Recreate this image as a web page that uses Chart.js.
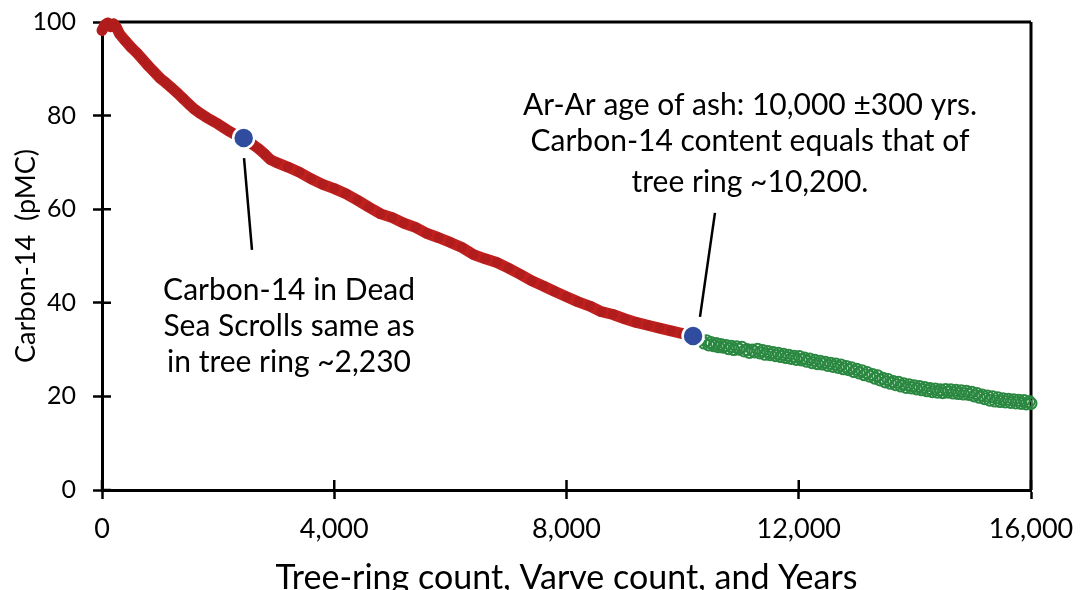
<!DOCTYPE html>
<html>
<head>
<meta charset="utf-8">
<script src="https://cdn.jsdelivr.net/npm/chart.js@4/dist/chart.umd.min.js"></script>
<style>
  html, body { margin: 0; padding: 0; background: #fff; }
  #c { display: block; }
</style>
</head>
<body>
<canvas id="c" width="1084" height="590"></canvas>
<script>
// ---------- DATA ----------
const redYears = [0, 50, 100, 150, 200, 250, 300, 400, 500, 600, 700, 800, 900, 1000, 1100, 1200, 1300, 1400, 1500, 1600, 1700, 1800, 1900, 2000, 2100, 2200, 2300, 2400, 2500, 2600, 2700, 2800, 2900, 3000, 3200, 3400, 3600, 3800, 4000, 4200, 4400, 4600, 4800, 5000, 5200, 5400, 5600, 5800, 6000, 6200, 6400, 6600, 6800, 7000, 7200, 7400, 7600, 7800, 8000, 8200, 8400, 8600, 8800, 9000, 9200, 9400, 9600, 9800, 10000];
const redC14 = [98.2, 99.4, 99.8, 99.0, 99.6, 98.8, 97.5, 96.0, 94.6, 93.4, 92.0, 90.6, 89.3, 88.0, 87.0, 85.9, 84.8, 83.6, 82.4, 81.3, 80.4, 79.6, 78.9, 78.2, 77.4, 76.6, 75.9, 75.3, 74.6, 73.8, 72.9, 71.8, 70.6, 70.0, 69.0, 67.9, 66.5, 65.3, 64.4, 63.3, 61.9, 60.4, 59.0, 58.2, 57.0, 56.1, 54.8, 53.9, 52.9, 51.8, 50.3, 49.4, 48.6, 47.4, 46.1, 44.7, 43.6, 42.4, 41.3, 40.2, 39.3, 38.1, 37.5, 36.6, 35.8, 35.2, 34.6, 34.0, 33.4];

const greenYears = [10320, 10370, 10410, 10450, 10490, 10540, 10580, 10620, 10660, 10700, 10750, 10790, 10840, 10880, 10930, 10970, 11020, 11060, 11110, 11150, 11200, 11240, 11290, 11330, 11380, 11420, 11470, 11510, 11560, 11600, 11650, 11690, 11740, 11780, 11830, 11870, 11920, 11960, 12010, 12050, 12100, 12140, 12190, 12230, 12280, 12320, 12370, 12410, 12460, 12500, 12550, 12590, 12640, 12680, 12730, 12770, 12820, 12860, 12910, 12950, 13000, 13040, 13090, 13130, 13180, 13220, 13270, 13310, 13360, 13400, 13450, 13490, 13540, 13580, 13630, 13670, 13720, 13760, 13810, 13850, 13900, 13940, 13990, 14030, 14080, 14120, 14170, 14210, 14260, 14300, 14350, 14390, 14440, 14480, 14530, 14570, 14620, 14660, 14710, 14750, 14800, 14840, 14890, 14930, 14980, 15020, 15070, 15110, 15160, 15200, 15250, 15290, 15340, 15380, 15430, 15470, 15520, 15560, 15610, 15650, 15700, 15740, 15790, 15830, 15880, 15920, 15970, 16000];
const greenC14 = [32.1, 31.4, 31.9, 31.0, 31.5, 30.8, 31.3, 30.6, 31.1, 30.5, 30.9, 30.2, 30.7, 30.0, 30.6, 30.1, 30.5, 29.7, 30.0, 29.4, 29.9, 29.5, 30.1, 29.3, 29.8, 29.0, 29.6, 28.9, 29.4, 28.7, 29.2, 28.5, 29.0, 28.3, 28.8, 28.1, 28.6, 27.9, 28.5, 27.8, 28.2, 27.5, 28.0, 27.2, 27.7, 27.0, 27.5, 26.9, 27.3, 26.6, 27.1, 26.4, 26.9, 26.2, 26.7, 25.9, 26.4, 25.7, 26.1, 25.3, 25.8, 25.0, 25.5, 24.6, 25.1, 24.3, 24.7, 23.9, 24.4, 23.5, 23.9, 23.1, 23.6, 22.8, 23.2, 22.5, 23.0, 22.2, 22.7, 21.9, 22.5, 21.8, 22.3, 21.6, 22.1, 21.4, 21.9, 21.2, 21.7, 21.0, 21.6, 20.9, 21.4, 20.8, 21.5, 20.9, 21.4, 20.7, 21.3, 20.6, 21.2, 20.5, 21.1, 20.4, 20.9, 20.1, 20.6, 19.8, 20.3, 19.5, 20.1, 19.2, 19.9, 19.0, 19.7, 18.9, 19.5, 18.8, 19.4, 18.7, 19.3, 18.6, 19.2, 18.5, 19.1, 18.4, 18.9, 18.5];

const markerYears = [2440, 10180];
const markerC14 = [75.2, 32.9];

const xTickValues = [0, 4000, 8000, 12000, 16000];
const yTickValues = [0, 20, 40, 60, 80, 100];

const xTitle = 'Tree-ring count, Varve count, and Years';
const yTitle = 'Carbon-14  (pMC)';

const noteLeft = ['Carbon-14 in Dead', 'Sea Scrolls same as', 'in tree ring ~2,230'];
const noteRight = ['Ar-Ar age of ash: 10,000 \u00B1300 yrs.', 'Carbon-14 content equals that of', 'tree ring ~10,200.'];

// annotation anchors (data units)
const leftNoteAt = { x: 3221, ys: [40.6, 32.9, 25.2] };
const rightNoteAt = { x: 11160, ys: [80.1, 72.4, 63.7] };
const leaders = [
  { x1: 2446, y1: 70.9, x2: 2583, y2: 51.3 },
  { x1: 10557, y1: 59.2, x2: 10299, y2: 37.0 }
];

// ---------- CHART ----------
const toPts = (xs, ys) => xs.map((x, i) => ({ x: x, y: ys[i] }));
const FONT = 'Lato, "Open Sans", sans-serif';

const framePlugin = {
  id: 'frame',
  beforeDatasetsDraw(chart) {
    const { ctx, chartArea: a, scales } = chart;
    ctx.save();
    ctx.strokeStyle = '#000';
    ctx.lineWidth = 3;
    ctx.beginPath();
    ctx.moveTo(a.left, a.top); ctx.lineTo(a.right, a.top);
    ctx.moveTo(a.right, a.top); ctx.lineTo(a.right, a.bottom);
    ctx.stroke();
    // inner halves of crossing tick marks
    ctx.lineWidth = 2.5;
    ctx.beginPath();
    yTickValues.forEach(v => {
      const py = scales.y.getPixelForValue(v);
      ctx.moveTo(a.left, py); ctx.lineTo(a.left + 9, py);
    });
    xTickValues.forEach(v => {
      const px = scales.x.getPixelForValue(v);
      ctx.moveTo(px, a.bottom); ctx.lineTo(px, a.bottom - 10);
    });
    ctx.stroke();
    ctx.restore();
  }
};

const notesPlugin = {
  id: 'notes',
  afterDatasetsDraw(chart) {
    const { ctx, scales } = chart;
    const X = v => scales.x.getPixelForValue(v);
    const Y = v => scales.y.getPixelForValue(v);
    ctx.save();
    ctx.strokeStyle = '#000';
    ctx.lineWidth = 2.5;
    leaders.forEach(l => {
      ctx.beginPath();
      ctx.moveTo(X(l.x1), Y(l.y1));
      ctx.lineTo(X(l.x2), Y(l.y2));
      ctx.stroke();
    });
    ctx.fillStyle = '#000';
    ctx.textAlign = 'center';
    ctx.textBaseline = 'alphabetic';
    ctx.font = '30px ' + FONT;
    noteLeft.forEach((t, i) => ctx.fillText(t, X(leftNoteAt.x), Y(leftNoteAt.ys[i])));
    noteRight.forEach((t, i) => ctx.fillText(t, X(rightNoteAt.x), Y(rightNoteAt.ys[i])));
    ctx.restore();
  }
};

new Chart(document.getElementById('c'), {
  type: 'scatter',
  data: {
    datasets: [
      {
        label: 'Dead Sea Scrolls / Ar-Ar ash',
        data: toPts(markerYears, markerC14),
        order: 0,
        pointRadius: 10.5,
        pointBackgroundColor: '#2f4c9f',
        pointBorderColor: '#ffffff',
        pointBorderWidth: 2.5,
        clip: false
      },
      {
        label: 'Tree rings',
        data: toPts(redYears, redC14),
        order: 1,
        showLine: true,
        borderColor: '#c0211f',
        borderWidth: 11,
        borderCapStyle: 'round',
        borderJoinStyle: 'round',
        pointRadius: 5,
        pointBackgroundColor: '#b11d1c',
        pointBorderWidth: 0,
        clip: false
      },
      {
        label: 'Varves',
        data: toPts(greenYears, greenC14),
        order: 2,
        pointRadius: 5.5,
        pointBackgroundColor: 'rgba(255,255,255,0)',
        pointBorderColor: '#2a8840',
        pointBorderWidth: 2,
        clip: false
      }
    ]
  },
  options: {
    responsive: false,
    animation: false,
    devicePixelRatio: 1,
    layout: { padding: { top: 22, right: 53, left: 0, bottom: 0 } },
    plugins: { legend: { display: false }, tooltip: { enabled: false } },
    scales: {
      x: {
        type: 'linear',
        min: 0, max: 16000,
        afterFit: s => { s.height = 100; s.paddingLeft = 0; s.paddingRight = 0; },
        afterBuildTicks: s => { s.ticks = xTickValues.map(v => ({ value: v })); },
        ticks: {
          color: '#000',
          padding: 14,
          maxRotation: 0,
          font: { family: FONT, size: 27 },
          callback: v => Number(v).toLocaleString('en-US')
        },
        grid: { drawOnChartArea: false, drawTicks: true, tickLength: 9, tickWidth: 2.5, tickColor: '#000' },
        border: { display: true, color: '#000', width: 3 },
        title: { display: true, text: xTitle, color: '#000', font: { family: FONT, size: 34 }, padding: { top: 0, bottom: -8 } }
      },
      y: {
        type: 'linear',
        min: 0, max: 100,
        afterFit: s => { s.width = 102; s.paddingTop = 0; s.paddingBottom = 0; },
        afterBuildTicks: s => { s.ticks = yTickValues.map(v => ({ value: v })); },
        ticks: {
          color: '#000',
          padding: 17,
          font: { family: FONT, size: 25 }
        },
        grid: { drawOnChartArea: false, drawTicks: true, tickLength: 9, tickWidth: 2.5, tickColor: '#000' },
        border: { display: true, color: '#000', width: 3 },
        title: { display: true, text: yTitle, color: '#000', font: { family: FONT, size: 27 }, padding: { top: 10, bottom: 0 } }
      }
    }
  },
  plugins: [framePlugin, notesPlugin]
});
</script>
</body>
</html>
